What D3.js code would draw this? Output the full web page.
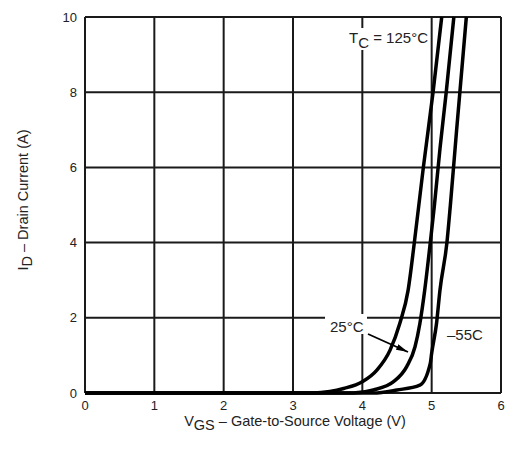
<!DOCTYPE html>
<html lang="en">
<head>
    <meta charset="UTF-8">
    <title>Transfer characteristics</title>
    <script src="https://d3js.org/d3.v7.min.js"></script>
    <style>
        body { margin: 0; background: #fff; }
        text { font-family: "Liberation Sans", Arial, sans-serif; fill: #222; }
    </style>
</head>
<body>
    <div id="chart"></div>
    <script>
        // data (VGS in volts, ID in amps)
        const xTicks = [0, 1, 2, 3, 4, 5, 6];
        const yTicks = [0, 2, 4, 6, 8, 10];

        const vgs125 = [0, 3.3, 3.53, 3.73, 4.0, 4.21, 4.4, 4.54, 4.66, 4.75, 4.88, 5.02, 5.145];
        const id125  = [0, 0, 0.04, 0.12, 0.3, 0.61, 1.14, 1.85, 2.73, 4.0, 6.0, 8.0, 10];

        const vgs25 = [0, 3.87, 4.16, 4.45, 4.64, 4.76, 4.83, 4.9, 4.98, 5.04, 5.12, 5.21, 5.32];
        const id25  = [0, 0, 0.08, 0.3, 0.7, 1.23, 1.85, 2.74, 4.0, 5.0, 6.5, 8.0, 10];

        const vgsM55 = [0, 4.16, 4.5, 4.83, 4.98, 5.0, 5.07, 5.12, 5.22, 5.27, 5.36, 5.5];
        const idM55  = [0, 0, 0.08, 0.21, 0.79, 1.06, 1.85, 2.74, 4.0, 5.0, 7.0, 10];

        const margin = {top: 17, right: 9, bottom: 58, left: 85};
        const width = 510 - margin.left - margin.right;
        const height = 451 - margin.top - margin.bottom;

        const svg = d3.select("#chart")
            .append("svg")
            .attr("width", 510)
            .attr("height", 451);

        const g = svg.append("g")
            .attr("transform", `translate(${margin.left},${margin.top})`);

        const x = d3.scaleLinear().domain([0, 6]).range([0, width]);
        const y = d3.scaleLinear().domain([0, 10]).range([height, 0]);

        // grid
        g.append("g")
            .selectAll("line")
            .data(xTicks)
            .join("line")
            .attr("x1", d => x(d)).attr("x2", d => x(d))
            .attr("y1", 0).attr("y2", height)
            .attr("stroke", "#1a1a1a").attr("stroke-width", 2);

        g.append("g")
            .selectAll("line")
            .data(yTicks)
            .join("line")
            .attr("x1", 0).attr("x2", width)
            .attr("y1", d => y(d)).attr("y2", d => y(d))
            .attr("stroke", "#1a1a1a").attr("stroke-width", 2);

        // tick labels
        g.append("g")
            .selectAll("text")
            .data(xTicks)
            .join("text")
            .attr("x", d => x(d))
            .attr("y", height + 17)
            .attr("text-anchor", "middle")
            .attr("font-size", 13)
            .text(d => d);

        g.append("g")
            .selectAll("text")
            .data(yTicks)
            .join("text")
            .attr("x", -8)
            .attr("y", d => y(d) + 4.5)
            .attr("text-anchor", "end")
            .attr("font-size", 13)
            .text(d => d);

        // white boxes behind the labels
        g.append("rect").attr("x", 262).attr("y", 11).attr("width", 80).attr("height", 22).attr("fill", "#fff");
        g.append("rect").attr("x", 240).attr("y", 297).attr("width", 42).attr("height", 20).attr("fill", "#fff");

        // curves
        const line = d3.line()
            .x(d => x(d[0]))
            .y(d => y(d[1]))
            .curve(d3.curveMonotoneX);

        const series = [
            d3.zip(vgs125, id125),
            d3.zip(vgs25, id25),
            d3.zip(vgsM55, idM55)
        ];

        g.append("g")
            .selectAll("path")
            .data(series)
            .join("path")
            .attr("d", line)
            .attr("fill", "none")
            .attr("stroke", "#000")
            .attr("stroke-width", 3.5)
            .attr("stroke-linejoin", "round");

        // labels
        const tc = g.append("text")
            .attr("x", 264)
            .attr("y", 26)
            .attr("font-size", 15);
        tc.append("tspan").text("T");
        tc.append("tspan").attr("dy", 5).text("C");
        tc.append("tspan").attr("dy", -5).text(" = 125°C");

        g.append("text")
            .attr("x", 245)
            .attr("y", 315)
            .attr("font-size", 15)
            .text("25°C");

        g.append("text")
            .attr("x", 362)
            .attr("y", 323)
            .attr("font-size", 15)
            .text("\u201355C");

        // arrow to the 25°C curve
        svg.append("defs").append("marker")
            .attr("id", "arr")
            .attr("viewBox", "0 0 12 6")
            .attr("refX", 12).attr("refY", 3)
            .attr("markerWidth", 12).attr("markerHeight", 6)
            .attr("markerUnits", "userSpaceOnUse")
            .attr("orient", "auto")
            .append("path")
            .attr("d", "M0,0L12,3L0,6Z")
            .attr("fill", "#000");

        g.append("line")
            .attr("x1", 283).attr("y1", 317)
            .attr("x2", 323).attr("y2", 335)
            .attr("stroke", "#000")
            .attr("stroke-width", 1.8)
            .attr("marker-end", "url(#arr)");

        // axis titles
        const xt = svg.append("text")
            .attr("x", margin.left + width / 2 + 2)
            .attr("y", 426)
            .attr("text-anchor", "middle")
            .attr("font-size", 14.5);
        xt.append("tspan").text("V");
        xt.append("tspan").attr("dy", 4).text("GS");
        xt.append("tspan").attr("dy", -4).text(" \u2013 Gate-to-Source Voltage (V)");

        const yt = svg.append("text")
            .attr("transform", `translate(28,${margin.top + height / 2 - 5}) rotate(-90)`)
            .attr("text-anchor", "middle")
            .attr("font-size", 14.5);
        yt.append("tspan").text("I");
        yt.append("tspan").attr("dy", 4).text("D");
        yt.append("tspan").attr("dy", -4).text(" \u2013 Drain Current (A)");
    </script>
</body>
</html>
